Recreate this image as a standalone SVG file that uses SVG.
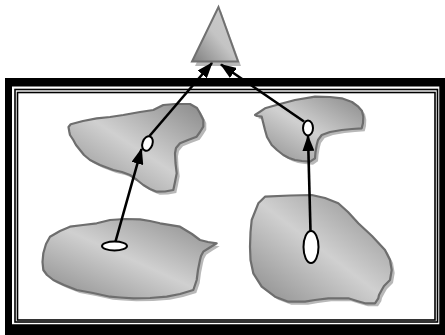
<svg xmlns="http://www.w3.org/2000/svg" width="445" height="335" viewBox="0 0 445 335">
<defs>
<linearGradient id="gBlob" x1="1" y1="0" x2="0" y2="1">
<stop offset="0" stop-color="#8a8a8a"/>
<stop offset="0.5" stop-color="#d0d0d0"/>
<stop offset="1" stop-color="#8a8a8a"/>
</linearGradient>
<linearGradient id="gTri" x1="1" y1="0" x2="0" y2="1">
<stop offset="0" stop-color="#cccccc"/>
<stop offset="0.5" stop-color="#c4c4c4"/>
<stop offset="1" stop-color="#7e7e7e"/>
</linearGradient>
<marker id="ah" viewBox="0 0 16 12" markerWidth="16" markerHeight="12" refX="15" refY="6" orient="auto" markerUnits="userSpaceOnUse">
<path d="M0,0 L16,6 L0,12 z" fill="#000"/>
</marker>
</defs>
<style>
.shadow{fill:#b8b8b8;stroke:none}
.blob{fill:url(#gBlob);stroke:#6e6e6e;stroke-width:2.2;stroke-linejoin:round}
.tri{fill:url(#gTri);stroke:#707070;stroke-width:2;stroke-linejoin:miter}
.port{fill:#fff;stroke:#000;stroke-width:2}
.conn{stroke:#000;stroke-width:2.6;fill:none;marker-end:url(#ah)}
.line{fill:none;stroke:#000}
</style>
<rect width="445" height="335" fill="#fff"/>
<g id="frame">
<path d="M5,78 H447 V337 H5 Z M12,86.5 V324.3 H439.3 V86.5 Z" fill="#000" fill-rule="evenodd"/>
<rect class="line" x="15" y="89.5" width="422.5" height="232.5" stroke-width="1.6"/>
<rect class="line" x="17.5" y="92.5" width="417.5" height="227.5" stroke-width="1.6"/>
</g>
<g id="apex">
<polygon class="shadow" points="221,11 195,66 241,66"/>
<polygon class="tri" points="218.5,7 192,61.5 238,61.5"/>
</g>
<g id="region-upper-left">
<polygon class="shadow" transform="translate(3,3)" points="70.7,124.3 83,121 96.7,118.3 110,117 123.3,115 140,112 153.3,110 163.3,105 175,104 190,104 197,108 200,113.3 203.3,120 203.3,126.7 200,132 196.7,136.7 188,140 180,143.3 176,148 175,153.3 175.5,163 176.7,173.3 175,182 173.3,190 165,191.5 156.7,191.7 150,189 143.3,185 137,180 130,175 122,172 113.3,170 100,165 90,160 84,155 80,150 76,145 73.3,140 70,135 69.3,131.7 68.5,127"/>
<polygon class="blob" points="70.7,124.3 83,121 96.7,118.3 110,117 123.3,115 140,112 153.3,110 163.3,105 175,104 190,104 197,108 200,113.3 203.3,120 203.3,126.7 200,132 196.7,136.7 188,140 180,143.3 176,148 175,153.3 175.5,163 176.7,173.3 175,182 173.3,190 165,191.5 156.7,191.7 150,189 143.3,185 137,180 130,175 122,172 113.3,170 100,165 90,160 84,155 80,150 76,145 73.3,140 70,135 69.3,131.7 68.5,127"/>
<ellipse class="port" cx="147.5" cy="143.5" rx="5" ry="7.5" transform="rotate(20 147.5 143.5)"/>
</g>
<g id="region-upper-right">
<polygon class="shadow" transform="translate(3,3)" points="255,115 265,108.3 280,104 295,100 315,96.7 330,97 341.7,98.3 352,102 358.3,106.7 362,111 363.3,116.7 363,123 361.7,128.3 352,129 341.7,130 330,132 321.7,135 318,140 316.7,145 315.5,152 315,158.3 310,161.7 302,161 295,160 289,158 283.3,155 277,150 271.7,145 267,137 265,130 263,122 261.7,116.7 257,116"/>
<polygon class="blob" points="255,115 265,108.3 280,104 295,100 315,96.7 330,97 341.7,98.3 352,102 358.3,106.7 362,111 363.3,116.7 363,123 361.7,128.3 352,129 341.7,130 330,132 321.7,135 318,140 316.7,145 315.5,152 315,158.3 310,161.7 302,161 295,160 289,158 283.3,155 277,150 271.7,145 267,137 265,130 263,122 261.7,116.7 257,116"/>
<ellipse class="port" cx="308" cy="128" rx="5" ry="7.5"/>
</g>
<g id="region-lower-left">
<polygon class="shadow" transform="translate(3,3)" points="43.3,253.3 46,244 50,236.7 60,231 70,226.7 83,225 96.7,223.3 110,220 125,219 140,219.3 150,221 160,223.3 180,226.7 192,234 200,240 208,242 216.7,243.3 209,248 203.3,251.7 201,256 200,260 198,270 196.7,280 193.3,290 180,294 166.7,296.7 150,298 133.3,298.3 120,297.5 110,296.7 93,293 76.7,290 64,285 53.3,280 47,275 43.3,270 42.5,262"/>
<polygon class="blob" points="43.3,253.3 46,244 50,236.7 60,231 70,226.7 83,225 96.7,223.3 110,220 125,219 140,219.3 150,221 160,223.3 180,226.7 192,234 200,240 208,242 216.7,243.3 209,248 203.3,251.7 201,256 200,260 198,270 196.7,280 193.3,290 180,294 166.7,296.7 150,298 133.3,298.3 120,297.5 110,296.7 93,293 76.7,290 64,285 53.3,280 47,275 43.3,270 42.5,262"/>
<ellipse class="port" cx="114.5" cy="246" rx="12.5" ry="4.5"/>
</g>
<g id="region-lower-right">
<polygon class="shadow" transform="translate(3,3)" points="258.3,203.3 265,196.7 290,195.5 311.7,195 325,198 338.3,203.3 348,212 358.3,223.3 372,236 385,250 390,260 391.7,270 390,280 384,286 381.7,290 379,295 378.3,298.3 375,303.3 365,303.3 357,301 348.3,298.3 328.3,298.3 315,300 305,301.7 288.3,301.7 275,296.7 261.7,286.7 253.3,273.3 250.5,260 250,246.7 250.5,232 251.7,220"/>
<polygon class="blob" points="258.3,203.3 265,196.7 290,195.5 311.7,195 325,198 338.3,203.3 348,212 358.3,223.3 372,236 385,250 390,260 391.7,270 390,280 384,286 381.7,290 379,295 378.3,298.3 375,303.3 365,303.3 357,301 348.3,298.3 328.3,298.3 315,300 305,301.7 288.3,301.7 275,296.7 261.7,286.7 253.3,273.3 250.5,260 250,246.7 250.5,232 251.7,220"/>
<ellipse class="port" cx="311" cy="247" rx="7.5" ry="16"/>
</g>
<g id="connectors">
<line class="conn" x1="115.5" y1="241.5" x2="141.5" y2="149"/>
<line class="conn" x1="310.5" y1="231" x2="308" y2="136"/>
<line class="conn" x1="149.5" y1="136" x2="212" y2="63"/>
<line class="conn" x1="304" y1="121.5" x2="221" y2="64.5"/>
</g>
</svg>
